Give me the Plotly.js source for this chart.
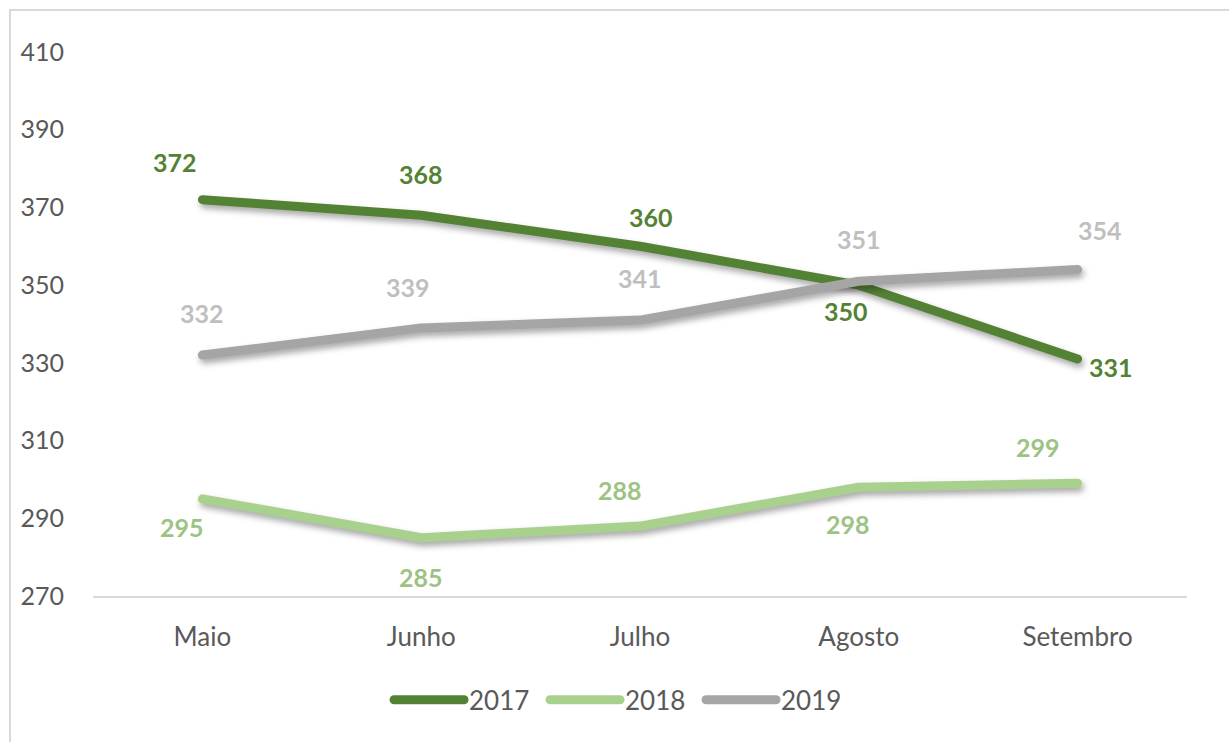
<!DOCTYPE html>
<html>
<head>
<meta charset="utf-8">
<script src="https://cdn.plot.ly/plotly-3.0.1.min.js"></script>
<style>
  html, body { margin: 0; padding: 0; background: #fff; }
  #wrap { position: relative; width: 1229px; height: 742px; overflow: hidden; }
  #chart { position: absolute; left: 0; top: 0; width: 1229px; height: 742px; }
  #frame { position: absolute; left: 9px; top: 9px; width: 1240px; height: 760px;
           border: 2px solid #d9d9d9; pointer-events: none; box-sizing: border-box; }
  .scatterlayer .js-line { stroke-linecap: round; stroke-linejoin: round;
           filter: drop-shadow(2px 4px 3px rgba(0,0,0,0.35)); }
  .legendlines path { stroke-linecap: round; }
</style>
</head>
<body>
<div id="wrap">
  <div id="chart"></div>
  <div id="frame"></div>
</div>
<script>
// ---- data ----
var months = ["Maio", "Junho", "Julho", "Agosto", "Setembro"];
var seriesNames = ["2017", "2018", "2019"];
var values2017 = [372, 368, 360, 350, 331];
var values2018 = [295, 285, 288, 298, 299];
var values2019 = [332, 339, 341, 351, 354];
var yTicks = [270, 290, 310, 330, 350, 370, 390, 410];

// ---- styles ----
var lineColors = ["#548235", "#A9D18E", "#A5A5A5"];
var labelColors = ["#548235", "#9DC384", "#BFBFBF"];
// label offsets in pixels [xshift, yshift] for each point
var labelShift = [
  [[-27, 38], [0, 41], [11, 29], [-13, -26], [33, -8]],
  [[-20, -28], [0, -39], [-20, 36], [-11, -37], [-40, 36]],
  [[0, 42], [-13, 41], [0, 42], [0, 42], [22, 40]]
];

var allValues = [values2017, values2018, values2019];
var font = "Lato, 'Open Sans', sans-serif";

var traces = allValues.map(function (vals, i) {
  return {
    type: "scatter",
    mode: "lines",
    name: seriesNames[i],
    x: months,
    y: vals,
    line: { color: lineColors[i], width: 9 },
    hoverinfo: "skip"
  };
});

var annotations = [];
allValues.forEach(function (vals, i) {
  vals.forEach(function (v, j) {
    annotations.push({
      x: months[j], y: v, xref: "x", yref: "y",
      text: "<b>" + v + "</b>",
      showarrow: false,
      xshift: labelShift[i][j][0],
      yshift: labelShift[i][j][1],
      font: { family: font, size: 25, color: labelColors[i] }
    });
  });
});

var layout = {
  width: 1229, height: 742,
  margin: { l: 93, r: 42, t: 52, b: 146 },
  paper_bgcolor: "rgba(0,0,0,0)",
  plot_bgcolor: "rgba(0,0,0,0)",
  showlegend: true,
  legend: {
    orientation: "h", x: 0.4845, xanchor: "center", y: -0.191, yanchor: "middle",
    font: { family: font, size: 26, color: "#595959" },
    itemwidth: 70, traceorder: "normal",
    entrywidth: 71, entrywidthmode: "pixels"
  },
  xaxis: {
    type: "category", range: [-0.5, 4.5],
    showgrid: false, zeroline: false,
    showline: true, linecolor: "#d9d9d9", linewidth: 2,
    ticks: "", ticklabelstandoff: 17,
    tickfont: { family: font, size: 26, color: "#595959" },
    fixedrange: true
  },
  yaxis: {
    range: [270, 410], tickvals: yTicks, ticktext: yTicks.map(String),
    showgrid: false, zeroline: false, showline: false,
    ticks: "", ticklabelstandoff: 28,
    tickfont: { family: font, size: 25, color: "#595959" },
    fixedrange: true
  },
  annotations: annotations
};

Plotly.newPlot("chart", traces, layout, { displayModeBar: false, staticPlot: true });
</script>
</body>
</html>
